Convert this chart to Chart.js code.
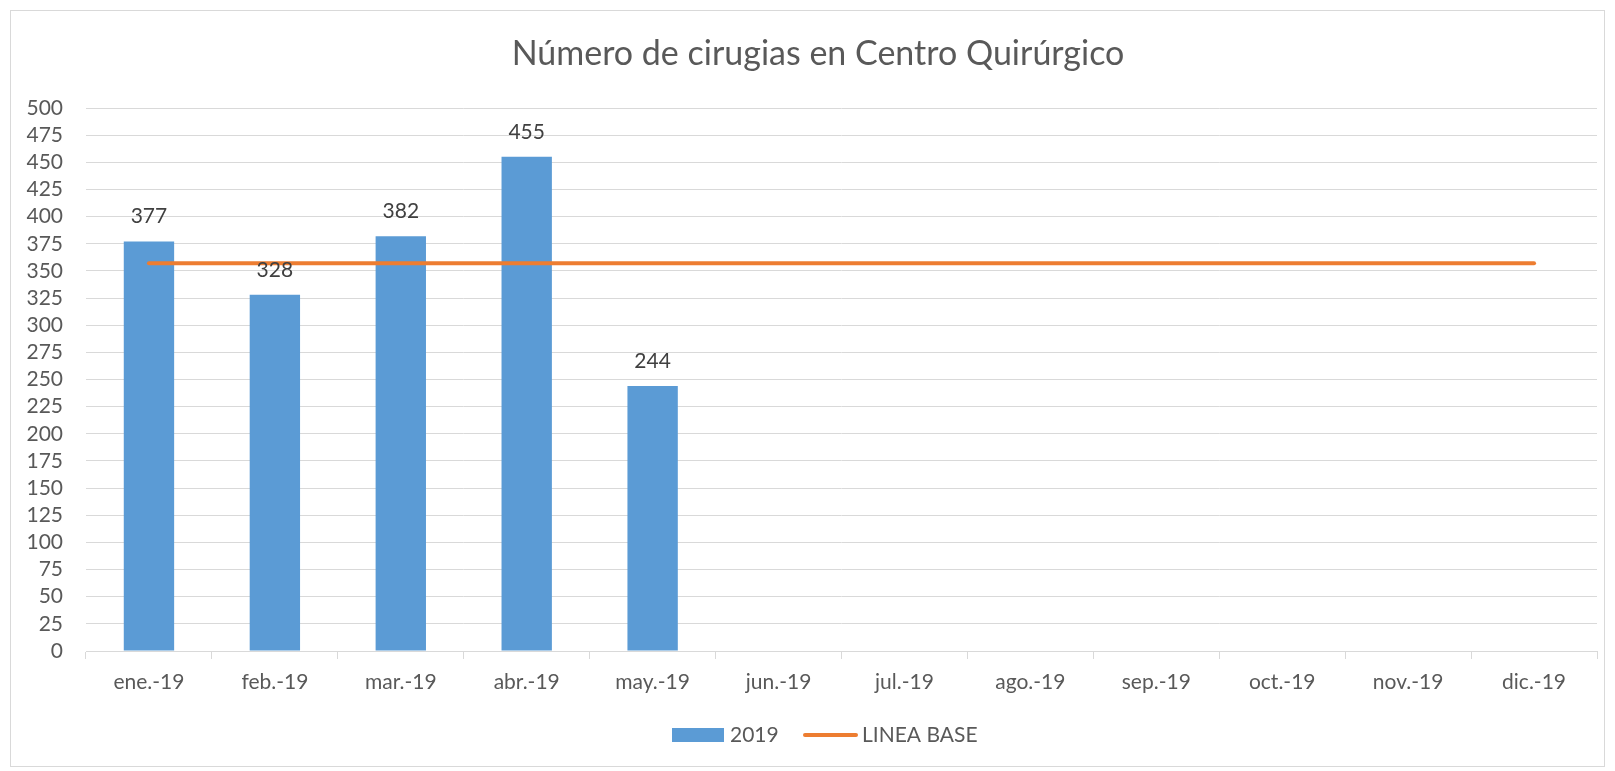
<!DOCTYPE html>
<html>
<head>
<meta charset="utf-8">
<script src="https://cdn.jsdelivr.net/npm/chart.js@4.4.0/dist/chart.umd.min.js"></script>
<style>
  html, body { margin: 0; padding: 0; background: #ffffff; }
  #wrap { width: 1615px; height: 771px; position: relative; }
</style>
</head>
<body>
<div id="wrap"><canvas id="surgeryChart" width="1615" height="771"></canvas></div>
<script>
// Chart data
const months = ["ene.-19", "feb.-19", "mar.-19", "abr.-19", "may.-19", "jun.-19",
  "jul.-19", "ago.-19", "sep.-19", "oct.-19", "nov.-19", "dic.-19"];
const surgeries2019 = [377, 328, 382, 455, 244, null, null, null, null, null, null, null];
const baseLine = [357, 357, 357, 357, 357, 357, 357, 357, 357, 357, 357, 357];
const chartTitle = "Número de cirugias en Centro Quirúrgico";
const seriesNames = ["2019", "LINEA BASE"];

const FONT = "Lato, 'Open Sans', sans-serif";
const TEXT_GREY = "#595959";
const GRID_GREY = "#d9d9d9";
const BLUE = "#5b9bd5";
const ORANGE = "#ed7d31";

// Draws frame, title, bar labels and legend
const decorations = {
  id: "decorations",
  afterDraw(chart) {
    const ctx = chart.ctx;
    ctx.save();

    // outer frame
    ctx.strokeStyle = GRID_GREY;
    ctx.lineWidth = 1;
    ctx.strokeRect(10.5, 10.5, 1594, 756);

    // title
    ctx.fillStyle = TEXT_GREY;
    ctx.font = "34px " + FONT;
    ctx.textAlign = "center";
    ctx.textBaseline = "middle";
    ctx.fillText(chartTitle, 818, 54);

    // values above the bars
    const meta = chart.getDatasetMeta(0);
    ctx.fillStyle = "#404040";
    ctx.font = "21px " + FONT;
    meta.data.forEach((bar, i) => {
      const v = surgeries2019[i];
      if (v === null) return;
      ctx.fillText(String(v), bar.x, bar.y - 25);
    });

    // legend
    const ly = 735;
    ctx.fillStyle = BLUE;
    ctx.fillRect(672, ly - 7, 52, 14);
    ctx.fillStyle = TEXT_GREY;
    ctx.textAlign = "left";
    ctx.font = "21px " + FONT;
    ctx.fillText(seriesNames[0], 730, ly);

    ctx.strokeStyle = ORANGE;
    ctx.lineWidth = 4;
    ctx.lineCap = "round";
    ctx.beginPath();
    ctx.moveTo(805, ly);
    ctx.lineTo(856, ly);
    ctx.stroke();
    ctx.fillText(seriesNames[1], 862, ly);

    ctx.restore();
  },
};

const ctx = document.getElementById("surgeryChart").getContext("2d");

new Chart(ctx, {
  type: "bar",
  data: {
    labels: months,
    datasets: [
      {
        label: seriesNames[0],
        data: surgeries2019,
        backgroundColor: BLUE,
        categoryPercentage: 1,
        barPercentage: 0.4,
        order: 2,
      },
      {
        type: "line",
        label: seriesNames[1],
        data: baseLine,
        borderColor: ORANGE,
        borderWidth: 4,
        borderCapStyle: "round",
        pointRadius: 0,
        fill: false,
        tension: 0,
        order: 1,
      },
    ],
  },
  options: {
    responsive: false,
    animation: false,
    layout: {
      padding: { top: 108, right: 18, bottom: 0, left: 0 },
    },
    plugins: {
      legend: { display: false },
      title: { display: false },
      tooltip: { enabled: false },
    },
    scales: {
      x: {
        offset: true,
        grid: {
          offset: true,
          drawOnChartArea: false,
          drawTicks: true,
          tickLength: 8,
          color: GRID_GREY,
        },
        border: { display: true, color: GRID_GREY },
        ticks: {
          color: TEXT_GREY,
          font: { family: FONT, size: 21 },
          padding: 11,
          maxRotation: 0,
          autoSkip: false,
        },
        afterFit(scale) {
          scale.height = 120;
        },
      },
      y: {
        min: 0,
        max: 500,
        grid: { color: GRID_GREY, drawTicks: false },
        border: { display: false },
        ticks: {
          stepSize: 25,
          autoSkip: false,
          color: TEXT_GREY,
          font: { family: FONT, size: 21 },
          padding: 23,
        },
        afterFit(scale) {
          scale.width = 86;
        },
      },
    },
  },
  plugins: [decorations],
});
</script>
</body>
</html>
